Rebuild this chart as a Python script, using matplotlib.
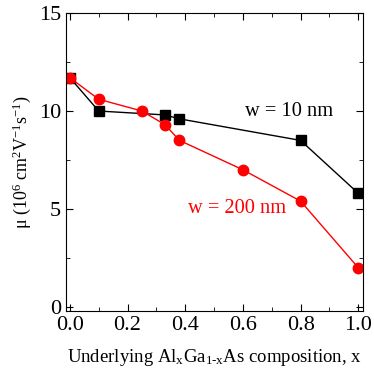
import matplotlib
matplotlib.use("Agg")
import matplotlib.pyplot as plt
from matplotlib.ticker import MultipleLocator

plt.rcParams["font.family"] = ["Liberation Serif", "DejaVu Serif"]
plt.rcParams["mathtext.fontset"] = "custom"
plt.rcParams["mathtext.rm"] = "Liberation Serif"
plt.rcParams["mathtext.it"] = "Liberation Serif"

# w = 10 nm (black squares)
x_10nm = [0.0, 0.1, 0.33, 0.38, 0.8, 1.0]
mu_10nm = [11.7, 10.0, 9.8, 9.6, 8.5, 5.8]

# w = 200 nm (red circles)
x_200nm = [0.0, 0.1, 0.25, 0.33, 0.38, 0.6, 0.8, 1.0]
mu_200nm = [11.7, 10.6, 10.0, 9.3, 8.5, 7.0, 5.4, 2.0]

fig = plt.figure(figsize=(3.74, 3.74), dpi=100)
ax = fig.add_axes([0.176, 0.169, 0.795, 0.796])

ax.plot(x_10nm, mu_10nm, color="black", marker="s", markersize=6.5, linewidth=1)
ax.plot(x_200nm, mu_200nm, color="red", marker="o", markersize=7.5, linewidth=1)

ax.text(0.76, 10.0, "w = 10 nm", color="black", fontsize=14.7, ha="center", va="center")
ax.text(0.58, 5.0, "w = 200 nm", color="red", fontsize=14.7, ha="center", va="center")

ax.set_xlim(-0.014, 1.017)
ax.set_ylim(-0.2, 15)
ax.xaxis.set_major_locator(MultipleLocator(0.2))
ax.xaxis.set_minor_locator(MultipleLocator(0.1))
ax.yaxis.set_major_locator(MultipleLocator(5))
ax.yaxis.set_minor_locator(MultipleLocator(2.5))
ax.xaxis.set_major_formatter(matplotlib.ticker.FormatStrFormatter("%.1f"))
ax.tick_params(which="both", direction="in", top=True, right=True, labelsize=16)
ax.tick_params(which="major", length=5)
ax.tick_params(which="minor", length=3)

ax.set_xlabel(r"Underlying Al$_\mathrm{x}$Ga$_\mathrm{1\text{-}x}$As composition, x", fontsize=13.5, labelpad=9)
ax.set_ylabel(r"$\mathrm{\mu}$ (10$^6$ cm$^2$V$^{-1}$s$^{-1}$)", fontsize=13)

fig.savefig("out.png", dpi=100)
